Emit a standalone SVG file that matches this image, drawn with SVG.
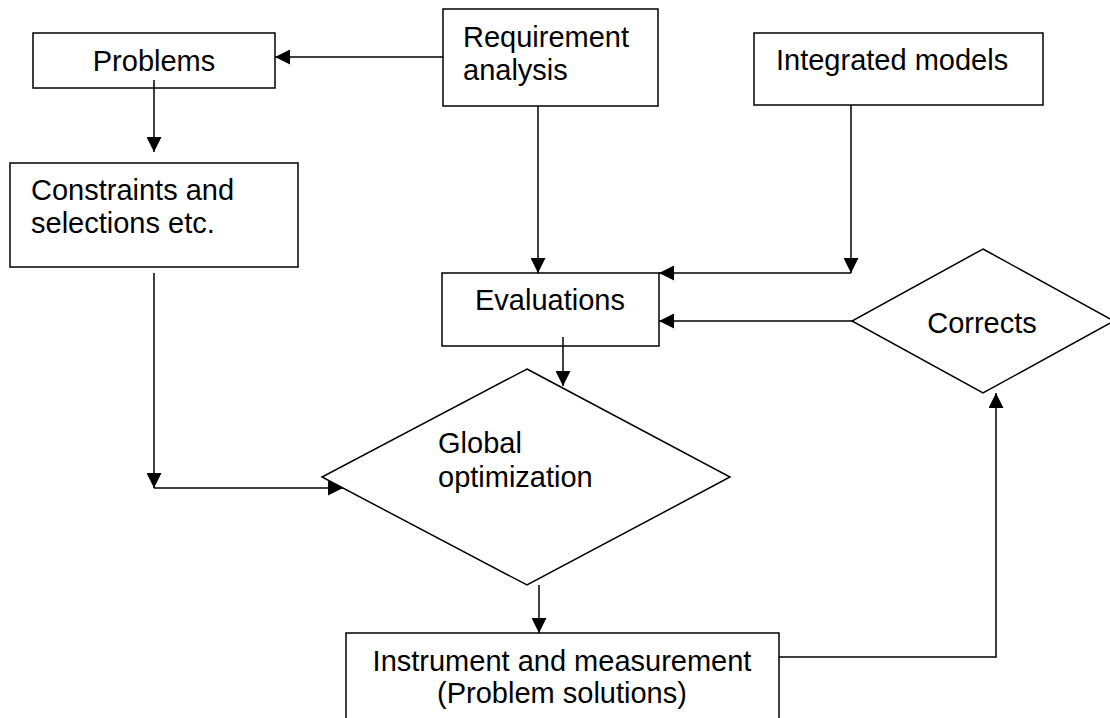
<svg xmlns="http://www.w3.org/2000/svg" width="1110" height="718" viewBox="0 0 1110 718">
<defs>
<style>
.box{fill:#fff;stroke:#000;stroke-width:1.5}
.t{font-family:"Liberation Sans",Arial,sans-serif;font-size:29px;fill:#000}
.c{text-anchor:middle}
.ln{fill:none;stroke:#000;stroke-width:1.5}
</style>
<marker id="ah" markerUnits="userSpaceOnUse" markerWidth="16" markerHeight="15" refX="15" refY="7.5" orient="auto">
<path d="M0,0 L15,7.5 L0,15 z" fill="#000"/>
</marker>
</defs>
<rect width="1110" height="718" fill="#fff"/>
<g id="problems"><rect class="box" x="33" y="33" width="242" height="55"/><text class="t c" x="154" y="71">Problems</text></g>
<g id="requirement"><rect class="box" x="443" y="9" width="215" height="97"/><text class="t" x="463" y="47">Requirement</text><text class="t" x="463" y="80">analysis</text></g>
<g id="integrated"><rect class="box" x="754" y="33" width="289" height="72"/><text class="t" x="776" y="70">Integrated models</text></g>
<g id="constraints"><rect class="box" x="10" y="163" width="288" height="104"/><text class="t" x="31" y="200">Constraints and</text><text class="t" x="31" y="233">selections etc.</text></g>
<g id="evaluations"><rect class="box" x="442" y="273" width="217" height="73"/><text class="t c" x="550" y="310">Evaluations</text></g>
<g id="corrects"><polygon class="box" points="983,249 1114,321 983,393 852,321"/><text class="t c" x="982" y="333">Corrects</text></g>
<g id="global"><polygon class="box" points="527,369 730,477 527,585 322,477"/><text class="t" x="438" y="453">Global</text><text class="t" x="438" y="487">optimization</text></g>
<g id="instrument"><rect class="box" x="346" y="633" width="433" height="90"/><text class="t c" x="562" y="671">Instrument and measurement</text><text class="t c" x="562" y="703">(Problem solutions)</text></g>
<g id="connectors">
<path class="ln" d="M443,57 L275,57" marker-end="url(#ah)"/>
<path class="ln" d="M154,80 L154,152" marker-end="url(#ah)"/>
<path class="ln" d="M154,273 L154,488" marker-end="url(#ah)"/>
<path class="ln" d="M154,488 L343,488" marker-end="url(#ah)"/>
<path class="ln" d="M538,106 L538,273" marker-end="url(#ah)"/>
<path class="ln" d="M851,105 L851,273" marker-end="url(#ah)"/>
<path class="ln" d="M851,273 L659,273" marker-end="url(#ah)"/>
<path class="ln" d="M852,321 L659,321" marker-end="url(#ah)"/>
<path class="ln" d="M563,337 L563,386" marker-end="url(#ah)"/>
<path class="ln" d="M539,585 L539,633" marker-end="url(#ah)"/>
<path class="ln" d="M779,657 L996,657 L996,393" marker-end="url(#ah)"/>
</g>
</svg>
